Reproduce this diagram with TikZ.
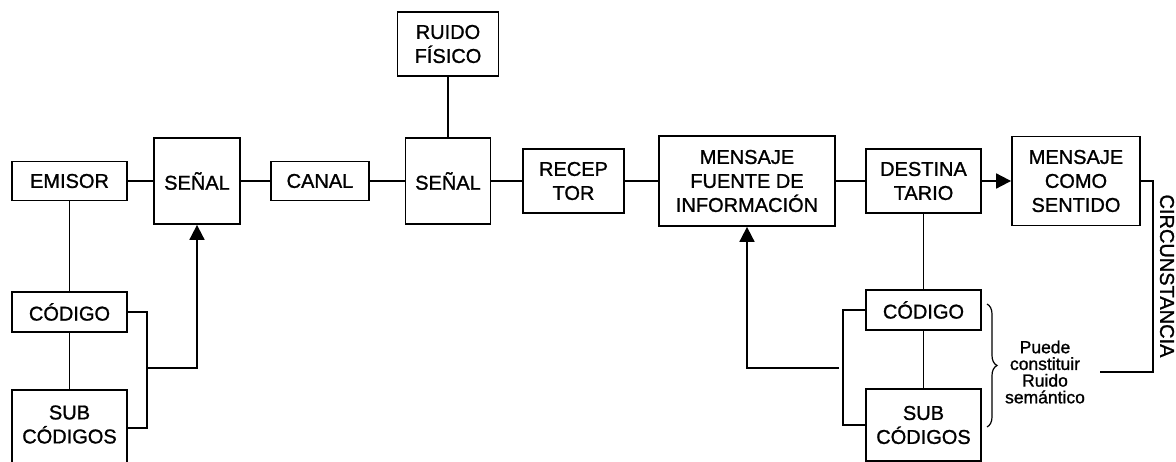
\documentclass[tikz,border=0pt]{standalone}
\usepackage{fontspec}
\setmainfont{Liberation Sans}[FakeBold=1.1]
\usetikzlibrary{arrows.meta,decorations.pathreplacing}
\begin{document}
\begin{tikzpicture}[x=1pt,y=-1pt,
  box/.style={draw, line width=1.8pt, inner sep=0pt, align=center,
    font=\fontsize{20}{24}\selectfont},
  conn/.style={line width=1.8pt},
  arr/.style={line width=1.8pt, -{Triangle[length=15pt,width=15pt]}},
  lbl/.style={inner sep=0pt, align=center, font=\fontsize{20}{24}\selectfont},
  small/.style={inner sep=0pt, align=center, font=\fontsize{17.5}{16.7}\selectfont}]
\clip (0,0) rectangle (1176,462);
\fill[white] (0,0) rectangle (1176,462);
% main row
\node[box, minimum width=115, minimum height=39] (emisor) at (69.5,181) {EMISOR};
\node[box, minimum width=86, minimum height=86] (senal1) at (197,181) {SEÑAL};
\node[box, minimum width=98, minimum height=39] (canal) at (320,181) {CANAL};
\node[box, minimum width=101, minimum height=64] (ruido) at (448,44) {RUIDO\\FÍSICO};
\node[box, minimum width=85, minimum height=86] (senal2) at (448,181) {SEÑAL};
\node[box, minimum width=101, minimum height=64] (receptor) at (573.5,181) {RECEP\\TOR};
\node[box, minimum width=176, minimum height=90] (mensaje) at (747,181) {MENSAJE\\FUENTE DE\\INFORMACIÓN};
\node[box, minimum width=115, minimum height=64] (destina) at (923.5,181) {DESTINA\\TARIO};
\node[box, minimum width=128, minimum height=89] (sentido) at (1076,181) {MENSAJE\\COMO\\SENTIDO};
% left codes
\node[box, minimum width=115, minimum height=40] (codigo1) at (69.5,312) {CÓDIGO};
\node[box, minimum width=115, minimum height=76] (sub1) at (69.5,428) {};
\node[lbl] (sub1t) at (69.5,424.5) {SUB\\CÓDIGOS};
% right codes
\node[box, minimum width=115, minimum height=40] (codigo2) at (923.5,310) {CÓDIGO};
\node[box, minimum width=115, minimum height=72] (sub2) at (923.5,425) {SUB\\CÓDIGOS};
% circumstance
\node[lbl, rotate=-90] (circ) at (1167,276) {CIRCUNSTANCIA};
\node[small] (puede) at (1045,372) {Puede\\constituir\\Ruido\\semántico};
% coordinates
\coordinate (bl) at (147,368);
\coordinate (br) at (843,368);
\coordinate (brs) at (839,368);
\coordinate (c1) at (1153,181);
\coordinate (c2) at (1153,372);
\coordinate (c3) at (1100,372);
\coordinate (bt) at (987,304);
\coordinate (bb) at (987,427);
% connectors
\draw[conn] (emisor) -- (senal1);
\draw[conn] (senal1) -- (canal);
\draw[conn] (canal) -- (senal2);
\draw[conn] (ruido) -- (senal2);
\draw[conn] (senal2) -- (receptor);
\draw[conn] (receptor) -- (mensaje);
\draw[conn] (mensaje) -- (destina);
\draw[arr] (destina) -- (sentido);
\draw[conn] (emisor) -- (codigo1);
\draw[conn] (codigo1) -- (sub1);
\draw[conn] (destina) -- (codigo2);
\draw[conn] (codigo2) -- (sub2);
% left bracket and arrow
\draw[conn] (codigo1.east) -| (bl) |- (sub1.east);
\draw[arr] (bl) -| (senal1.south);
% right bracket and arrow
\draw[conn] (codigo2.west) -| (br) |- (sub2.west);
\draw[arr] (brs) -| (mensaje.south);
% circumstance line
\draw[conn] (sentido.east) -- (c1) -- (c2) -- (c3);
% brace
\draw[line width=1.2pt, decorate, decoration={brace, amplitude=10pt}] (bt) -- (bb);
\end{tikzpicture}
\end{document}
